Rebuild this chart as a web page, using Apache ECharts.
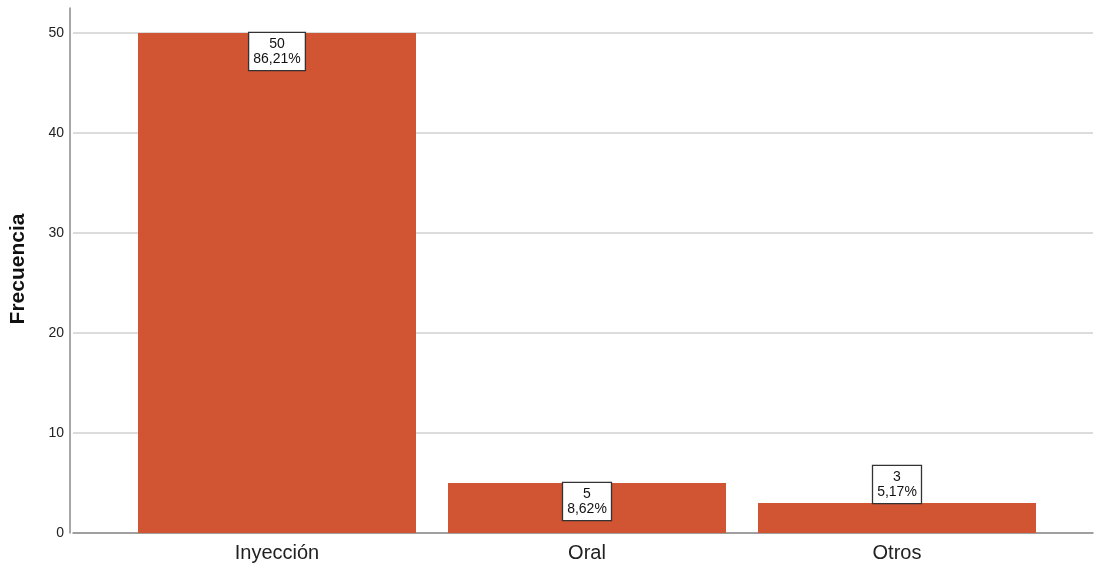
<!DOCTYPE html>
<html>
<head>
<meta charset="utf-8">
<script src="https://cdn.jsdelivr.net/npm/echarts@6/dist/echarts.min.js"></script>
<style>html,body{margin:0;padding:0;background:#fff}#c{width:1100px;height:570px}</style>
</head>
<body>
<div id="c"></div>
<script>
const categories = ['Inyección', 'Oral', 'Otros'];
const frecuencia = [50, 5, 3];
const porcentaje = ['86,21%', '8,62%', '5,17%'];
const labelPositions = ['insideTop', 'insideTop', 'top'];
const yTicks = [0, 10, 20, 30, 40, 50];

const chart = echarts.init(document.getElementById('c'), null, {renderer: 'canvas'});
const font = 'Arial, "Liberation Sans", sans-serif';
chart.setOption({
  animation: false,
  grid: [
    {left: 70, right: 7, top: 33, bottom: 37},
    {left: 70, width: 1, top: 8, bottom: 37},
    {left: 122, right: 48, top: 33, bottom: 37}
  ],
  xAxis: [
    {gridIndex: 0, type: 'value', min: 0, max: 1, axisLine: {show: true, onZero: false, lineStyle: {color: '#8a8a8a', width: 1.5}}, axisTick: {show: false}, axisLabel: {show: false}, splitLine: {show: false}},
    {gridIndex: 1, type: 'value', min: 0, max: 1, show: false},
    {gridIndex: 2, type: 'category', data: categories, axisLine: {show: false}, axisTick: {show: false},
      axisLabel: {fontFamily: font, fontSize: 20, color: '#222', margin: 10}}
  ],
  yAxis: [
    {gridIndex: 0, type: 'value', min: yTicks[0], max: yTicks[yTicks.length - 1], interval: 10,
      axisLine: {show: false}, axisTick: {show: false},
      axisLabel: {fontFamily: font, fontSize: 14, color: '#222', margin: 9},
      splitLine: {show: true, lineStyle: {color: '#d0d0d0', width: 1.5}},
      name: 'Frecuencia', nameLocation: 'middle', nameGap: 44,
      nameTextStyle: {fontFamily: font, fontSize: 21, fontWeight: 'bold', color: '#111', padding: [0, 0, 0, 28]}},
    {gridIndex: 1, type: 'value', min: 0, max: 52.5, axisLine: {show: true, lineStyle: {color: '#8a8a8a', width: 1.5}},
      axisTick: {show: false}, axisLabel: {show: false}, splitLine: {show: false}},
    {gridIndex: 2, type: 'value', min: 0, max: 50, show: false}
  ],
  series: [{
    type: 'bar',
    xAxisIndex: 2, yAxisIndex: 2,
    barWidth: 278,
    itemStyle: {color: '#D15433'},
    data: frecuencia.map((v, i) => ({
      value: v,
      label: {
        show: true,
        position: labelPositions[i],
        distance: 0,
        formatter: () => v + '\n' + porcentaje[i],
        fontFamily: font, fontSize: 14, lineHeight: 15, color: '#111',
        backgroundColor: '#fff', borderColor: '#333', borderWidth: 1.3,
        padding: [4, 4, 3, 4], align: 'center'
      }
    }))
  }]
});
</script>
</body>
</html>
